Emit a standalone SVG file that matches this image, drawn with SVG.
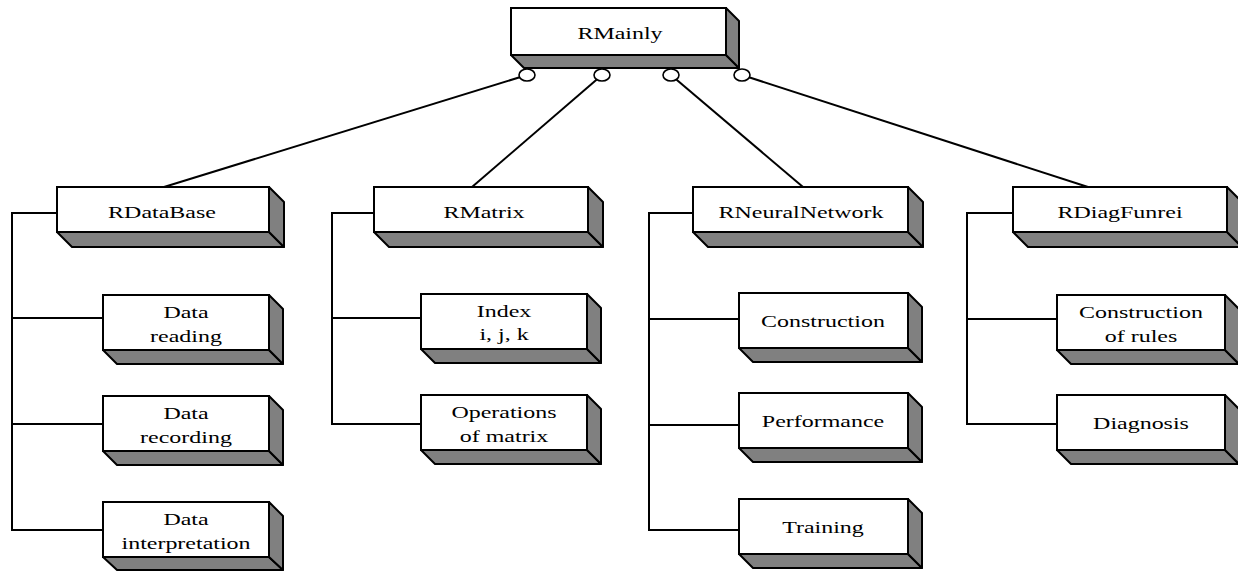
<svg xmlns="http://www.w3.org/2000/svg" width="1238" height="571" viewBox="0 0 1238 571">
<style>
.face{fill:#ffffff;stroke:#000;stroke-width:2}
.side{fill:#808080;stroke:#000;stroke-width:2;stroke-linejoin:round}
.lbl{font-family:"Liberation Serif","Times New Roman",serif;font-size:17.5px;fill:#000;text-anchor:middle}
.wire{fill:none;stroke:#000;stroke-width:2}
.knob{fill:#fff;stroke:#000;stroke-width:1.6}
</style>
<rect width="1238" height="571" fill="#fff"/>
<g id="connectors">
<line class="wire" x1="527" y1="75" x2="164" y2="187"/>
<line class="wire" x1="602" y1="75" x2="472" y2="187"/>
<line class="wire" x1="671" y1="75" x2="803" y2="187"/>
<line class="wire" x1="742" y1="75" x2="1088" y2="187"/>
<path class="wire" d="M57,213 H12 V530 H103 M12,318 H103 M12,424 H103"/>
<path class="wire" d="M374,213 H332 V424 H421 M332,318 H421"/>
<path class="wire" d="M693,213 H649 V530 H739 M649,319 H739 M649,425 H739"/>
<path class="wire" d="M1013,213 H967 V424 H1057 M967,319 H1057"/>
</g>
<g id="RMainly">
<polygon class="side" points="511,55 524,68 739,68 726,55"/>
<polygon class="side" points="726,8 739,21 739,68 726,55"/>
<rect class="face" x="511" y="8" width="215" height="47"/>
<text class="lbl" transform="translate(620,39) scale(1.37,1)">RMainly</text>
<ellipse class="knob" cx="527" cy="75" rx="8" ry="6"/>
<ellipse class="knob" cx="602" cy="75" rx="8" ry="6"/>
<ellipse class="knob" cx="671" cy="75" rx="8" ry="6"/>
<ellipse class="knob" cx="742" cy="75" rx="8" ry="6"/>
</g>
<g id="RDataBase">
<polygon class="side" points="57,232 72,247 284,247 269,232"/>
<polygon class="side" points="269,187 284,202 284,247 269,232"/>
<rect class="face" x="57" y="187" width="212" height="45"/>
<text class="lbl" transform="translate(162,218) scale(1.37,1)">RDataBase</text>
</g>
<g id="RMatrix">
<polygon class="side" points="374,232 389,247 603,247 588,232"/>
<polygon class="side" points="588,187 603,202 603,247 588,232"/>
<rect class="face" x="374" y="187" width="214" height="45"/>
<text class="lbl" transform="translate(484,218) scale(1.37,1)">RMatrix</text>
</g>
<g id="RNeuralNetwork">
<polygon class="side" points="693,232 708,247 923,247 908,232"/>
<polygon class="side" points="908,187 923,202 923,247 908,232"/>
<rect class="face" x="693" y="187" width="215" height="45"/>
<text class="lbl" transform="translate(801,218) scale(1.37,1)">RNeuralNetwork</text>
</g>
<g id="RDiagFunrei">
<polygon class="side" points="1013,232 1028,247 1242,247 1227,232"/>
<polygon class="side" points="1227,187 1242,202 1242,247 1227,232"/>
<rect class="face" x="1013" y="187" width="214" height="45"/>
<text class="lbl" transform="translate(1120,218) scale(1.37,1)">RDiagFunrei</text>
</g>
<g id="DataReading">
<polygon class="side" points="103,350 117,364 283,364 269,350"/>
<polygon class="side" points="269,295 283,309 283,364 269,350"/>
<rect class="face" x="103" y="295" width="166" height="55"/>
<text class="lbl" transform="translate(186,318) scale(1.37,1)">Data</text>
<text class="lbl" transform="translate(186,342) scale(1.37,1)">reading</text>
</g>
<g id="DataRecording">
<polygon class="side" points="103,451 117,465 283,465 269,451"/>
<polygon class="side" points="269,396 283,410 283,465 269,451"/>
<rect class="face" x="103" y="396" width="166" height="55"/>
<text class="lbl" transform="translate(186,419) scale(1.37,1)">Data</text>
<text class="lbl" transform="translate(186,443) scale(1.37,1)">recording</text>
</g>
<g id="DataInterpretation">
<polygon class="side" points="103,557 117,570 283,570 269,557"/>
<polygon class="side" points="269,502 283,516 283,570 269,557"/>
<rect class="face" x="103" y="502" width="166" height="55"/>
<text class="lbl" transform="translate(186,525) scale(1.37,1)">Data</text>
<text class="lbl" transform="translate(186,549) scale(1.37,1)">interpretation</text>
</g>
<g id="Index">
<polygon class="side" points="421,349 435,363 601,363 587,349"/>
<polygon class="side" points="587,294 601,308 601,363 587,349"/>
<rect class="face" x="421" y="294" width="166" height="55"/>
<text class="lbl" transform="translate(504,317) scale(1.37,1)">Index</text>
<text class="lbl" transform="translate(504,340) scale(1.37,1)">i, j, k</text>
</g>
<g id="OperationsOfMatrix">
<polygon class="side" points="421,450 435,464 601,464 587,450"/>
<polygon class="side" points="587,395 601,409 601,464 587,450"/>
<rect class="face" x="421" y="395" width="166" height="55"/>
<text class="lbl" transform="translate(504,418) scale(1.37,1)">Operations</text>
<text class="lbl" transform="translate(504,442) scale(1.37,1)">of matrix</text>
</g>
<g id="Construction">
<polygon class="side" points="739,348 753,362 922,362 908,348"/>
<polygon class="side" points="908,293 922,307 922,362 908,348"/>
<rect class="face" x="739" y="293" width="169" height="55"/>
<text class="lbl" transform="translate(823,327) scale(1.37,1)">Construction</text>
</g>
<g id="Performance">
<polygon class="side" points="739,448 753,462 922,462 908,448"/>
<polygon class="side" points="908,393 922,407 922,462 908,448"/>
<rect class="face" x="739" y="393" width="169" height="55"/>
<text class="lbl" transform="translate(823,427) scale(1.37,1)">Performance</text>
</g>
<g id="Training">
<polygon class="side" points="739,554 753,568 922,568 908,554"/>
<polygon class="side" points="908,499 922,513 922,568 908,554"/>
<rect class="face" x="739" y="499" width="169" height="55"/>
<text class="lbl" transform="translate(823,533) scale(1.37,1)">Training</text>
</g>
<g id="ConstructionOfRules">
<polygon class="side" points="1057,350 1071,364 1239,364 1225,350"/>
<polygon class="side" points="1225,295 1239,309 1239,364 1225,350"/>
<rect class="face" x="1057" y="295" width="168" height="55"/>
<text class="lbl" transform="translate(1141,318) scale(1.37,1)">Construction</text>
<text class="lbl" transform="translate(1141,342) scale(1.37,1)">of rules</text>
</g>
<g id="Diagnosis">
<polygon class="side" points="1057,450 1071,464 1239,464 1225,450"/>
<polygon class="side" points="1225,395 1239,409 1239,464 1225,450"/>
<rect class="face" x="1057" y="395" width="168" height="55"/>
<text class="lbl" transform="translate(1141,429) scale(1.37,1)">Diagnosis</text>
</g>
</svg>
